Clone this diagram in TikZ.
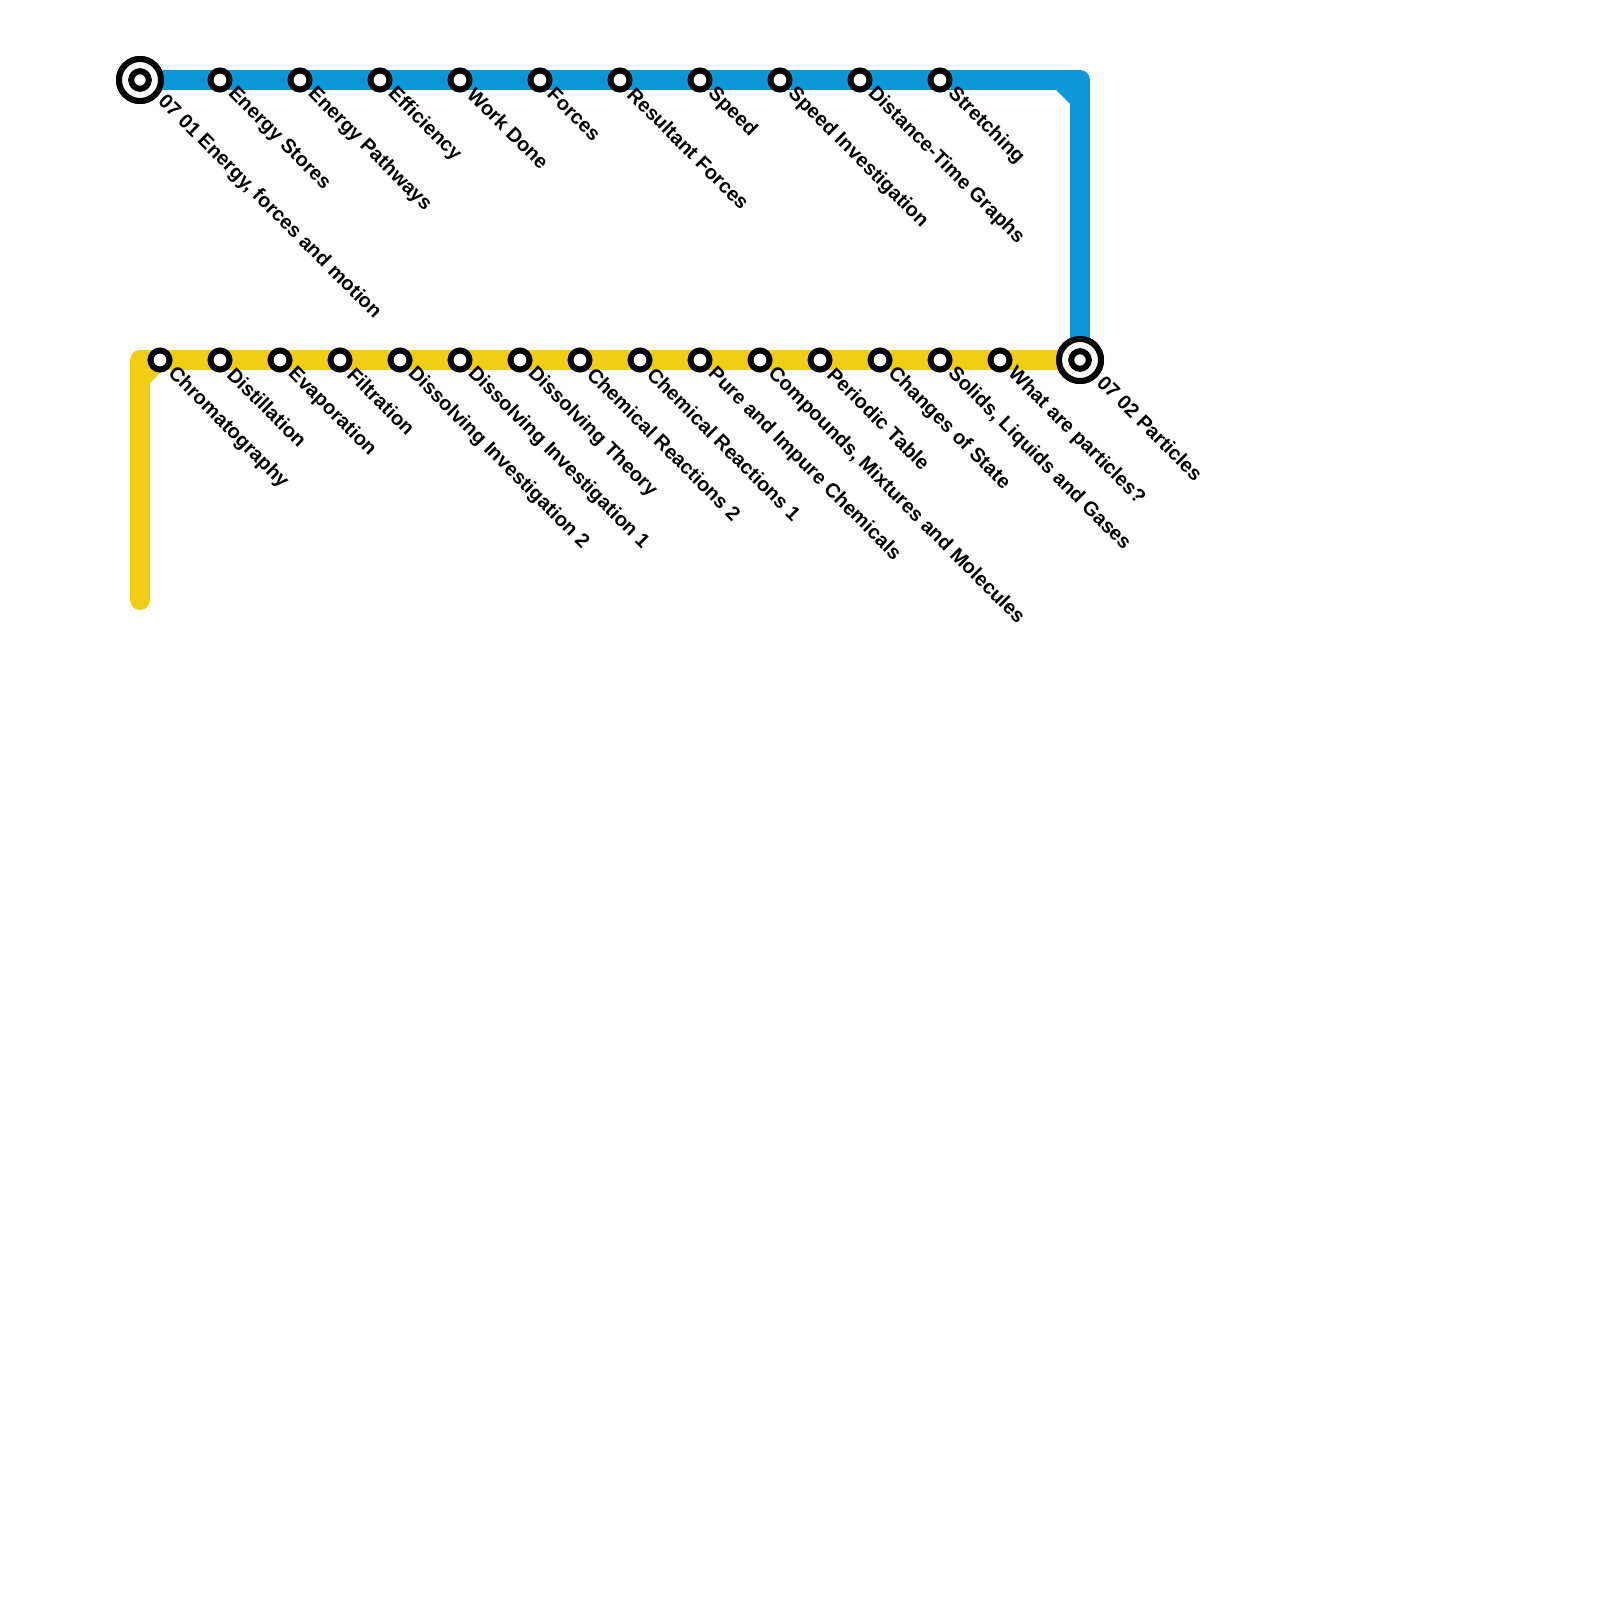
\documentclass[tikz,border=0pt]{standalone}
\usepackage{fontspec}
\setmainfont{Liberation Sans}
\definecolor{lineblue}{HTML}{0A98D8}
\definecolor{lineyellow}{HTML}{F0CE15}
\tikzset{
  route/.style={line width=10pt,line join=round,line cap=round},
  stationmark/.style={circle,draw=black,fill=white,line width=3pt,minimum size=9.5pt,inner sep=0pt,outer sep=0pt},
  endmark/.style={circle,draw=black,fill=white,line width=3pt,minimum size=21pt,inner sep=0pt,outer sep=0pt},
  endcore/.style={circle,draw=black,fill=white,line width=3pt,minimum size=8.8pt,inner sep=0pt,outer sep=0pt},
  stationtext/.style={rotate=-45,anchor=west,inner sep=0pt,outer sep=0pt,font=\bfseries\fontsize{10pt}{12pt}\selectfont},
}
\begin{document}
\begin{tikzpicture}[x=0.5pt,y=-0.5pt]
\useasboundingbox (0,0) rectangle (1600,1600);
\fill[white] (0,0) rectangle (1600,1600);
\coordinate (bluecorner) at (1080,80);
\coordinate (yellowcorner) at (140,360);
\coordinate (yellowend) at (140,600);
\node[endmark] (bluestart) at (140,80) {};
\node[endmark] (particles) at (1080,360) {};
\draw[route,lineblue,line cap=butt] (bluestart.center) -- (bluecorner) -- (particles.center);
\fill[lineblue] (1056,90) -- (1070,90) -- (1070,104) -- cycle;
\draw[route,lineyellow] (particles.center) -- (yellowcorner) -- (yellowend);
\fill[lineyellow] (163,370) -- (150,370) -- (150,383) -- cycle;
\foreach \nm/\px in {a/220,b/300,c/380,d/460,e/540,f/620,g/700,h/780,i/860,j/940}
  \node[stationmark] (blue\nm) at (\px,80) {};
\foreach \nm/\px in {a/160,b/220,c/280,d/340,e/400,f/460,g/520,h/580,i/640,j/700,k/760,l/820,m/880,n/940,o/1000}
  \node[stationmark] (yel\nm) at (\px,360) {};
\node[endmark] (bluestartring) at (bluestart.center) {};
\node[endcore] (bluestartcore) at (bluestart.center) {};
\node[endmark] (particlesring) at (particles.center) {};
\node[endcore] (particlescore) at (particles.center) {};
\foreach \nm/\txt in {a/Energy Stores,b/Energy Pathways,c/Efficiency,d/Work Done,e/Forces,f/Resultant Forces,g/Speed,h/Speed Investigation,i/Distance-Time Graphs,j/Stretching}
  \node[stationtext] (bluetext\nm) at ([shift={(11,11)}]blue\nm.center) {\txt};
\foreach \nm/\txt in {a/Chromatography,b/Distillation,c/Evaporation,d/Filtration,e/Dissolving Investigation 2,f/Dissolving Investigation 1,g/Dissolving Theory,h/Chemical Reactions 2,i/Chemical Reactions 1,j/Pure and Impure Chemicals,k/{Compounds, Mixtures and Molecules},l/Periodic Table,m/Changes of State,n/{Solids, Liquids and Gases},o/What are particles?}
  \node[stationtext] (yeltext\nm) at ([shift={(11,11)}]yel\nm.center) {\txt};
\node[stationtext] (starttext) at ([shift={(21,19)}]bluestart.center) {07 01 Energy, forces and motion};
\node[stationtext] (particlestext) at ([shift={(21,19)}]particles.center) {07 02 Particles};
\end{tikzpicture}
\end{document}
